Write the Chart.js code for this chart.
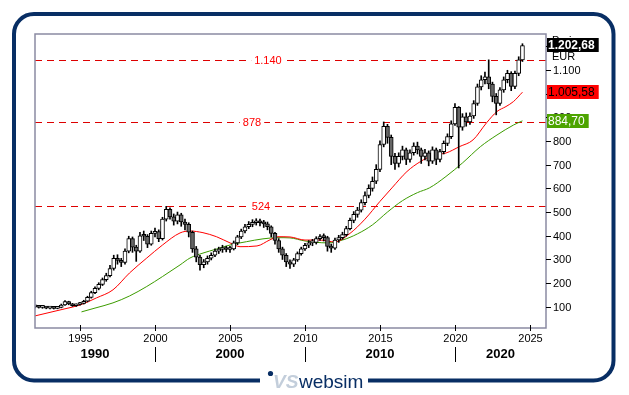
<!DOCTYPE html>
<html>
<head>
<meta charset="utf-8">
<script src="https://cdn.jsdelivr.net/npm/chart.js@4"></script>
<style>
  html, body { margin: 0; padding: 0; background: #fff; overflow: hidden; }
</style>
</head>
<body>
<canvas id="grafico" width="629" height="395"></canvas>
<script>
// ---------------------------------------------------------------- dados
// candles trimestrais, 1992 T1 .. 2024 T3 (EUR)
const INICIO = 1992.0;
const PASSO = 0.25;
const ABERTURA_INICIAL = 100;

const fechamentos = [
  101, 98, 99, 95,        // 1992
  97, 94, 98, 108,        // 1993
  122, 113, 105, 110,     // 1994
  115, 124, 140, 160,     // 1995
  178, 195, 215, 232,     // 1996
  262, 305, 296, 288,     // 1997
  335, 388, 352, 335,     // 1998
  400, 398, 365, 410,     // 1999
  418, 388, 470, 512,     // 2000
  480, 462, 488, 458,     // 2001
  448, 415, 345, 310,     // 2002
  278, 290, 305, 318,     // 2003
  335, 342, 348, 342,     // 2004
  345, 370, 395, 420,     // 2005
  438, 448, 455, 462,     // 2006
  455, 450, 438, 410,     // 2007
  380, 345, 318, 290,     // 2008
  280, 298, 325, 345,     // 2009
  360, 370, 372, 388,     // 2010
  395, 392, 355, 348,     // 2011
  382, 392, 405, 430,     // 2012
  465, 490, 508, 540,     // 2013
  570, 600, 630, 680,     // 2014
  785, 862, 815, 735,     // 2015
  705, 735, 762, 722,     // 2016
  750, 778, 762, 735,     // 2017
  750, 715, 762, 722,     // 2018
  755, 790, 818, 872,     // 2019
  942, 858, 902, 880,     // 2020
  905, 958, 1028, 1058,   // 2021
  1070, 1040, 988, 958,   // 2022
  1015, 1058, 1085, 1030, // 2023
  1085, 1142, 1202.68,    // 2024
];
const maximas = [
  104, 103, 102, 101,   100, 99, 101, 112,    127, 124, 115, 113,   119, 128, 145, 166,
  185, 202, 222, 242,   275, 318, 320, 305,   345, 398, 395, 360,   415, 420, 405, 420,
  432, 425, 478, 524,   518, 492, 500, 495,   470, 455, 420, 355,   318, 300, 315, 328,
  345, 352, 360, 356,   355, 378, 402, 428,   448, 460, 468, 472,   470, 465, 458, 442,
  415, 388, 352, 325,   298, 305, 332, 352,   368, 380, 385, 396,   405, 408, 398, 365,
  390, 402, 415, 440,   475, 502, 520, 552,   585, 615, 648, 700,   800, 880, 870, 825,
  748, 750, 778, 770,   762, 792, 795, 770,   765, 758, 775, 770,   765, 800, 830, 885,
  958, 945, 915, 918,   918, 970, 1040, 1075, 1090, 1142, 1048, 1000, 1025, 1070, 1098, 1092,
  1095, 1155, 1210,
];
const minimas = [
  96, 95, 94, 92,       92, 91, 92, 96,       106, 109, 102, 102,   107, 112, 121, 137,
  156, 172, 190, 208,   226, 255, 280, 270,   280, 328, 330, 292,   330, 380, 350, 360,
  395, 375, 382, 462,   470, 445, 450, 440,   425, 395, 330, 290,   255, 265, 280, 298,
  312, 325, 330, 332,   330, 340, 362, 388,   412, 430, 438, 445,   442, 435, 425, 395,
  365, 330, 300, 270,   262, 270, 292, 318,   338, 350, 358, 365,   380, 378, 335, 330,
  342, 372, 385, 398,   425, 455, 478, 500,   530, 560, 588, 620,   670, 775, 790, 700,
  680, 690, 720, 700,   710, 740, 745, 705,   720, 695, 705, 700,   712, 745, 780, 810,
  865, 686, 845, 862,   870, 895, 950, 1015,  1040, 1020, 965, 910,  950, 1005, 1045, 1012,
  1020, 1075, 1135,
];

// médias móveis
const mmVermelhaAnos = [1992.0, 1993.0, 1994.0, 1995.0, 1996.1, 1997.2, 1998.3, 1999.45, 2000.5, 2001.67,
  2002.33, 2003.2, 2004.1, 2005.0, 2005.67, 2006.8, 2007.67, 2008.2, 2009.0, 2010.0, 2011.0, 2012.0,
  2013.0, 2014.0, 2015.0, 2015.8, 2016.8, 2017.7, 2018.6, 2019.4, 2020.3, 2021.2, 2022.1, 2022.8,
  2023.4, 2023.9, 2024.5];
const mmVermelhaValores = [62, 77, 92, 108, 138, 172, 243, 306, 361, 412,
  420, 413, 396, 370, 354, 357, 383, 396, 395, 382, 382, 374,
  410, 470, 545, 602, 671, 713, 741, 749, 776, 804, 876, 924,
  945, 966, 1005.58];

const mmVerdeAnos = [1995.1, 1996.0, 1997.2, 1998.3, 1999.45, 2000.5, 2001.67, 2002.33, 2003.2, 2004.1,
  2005.0, 2006.1, 2007.2, 2008.2, 2009.0, 2010.0, 2011.5, 2012.5, 2013.5, 2014.5, 2015.5, 2016.5,
  2017.5, 2018.3, 2019.4, 2020.5, 2021.7, 2022.8, 2023.9, 2024.5];
const mmVerdeValores = [79, 95, 117, 146, 186, 228, 277, 306, 327, 344,
  361, 375, 387, 392, 391, 378, 370, 382, 408, 446, 500, 548,
  582, 602, 650, 707, 776, 825, 867, 884.70];

// linhas horizontais de resistência
const niveis = [1140, 878, 524];
const niveisRotulo = ["1.140", "878", "524"];

// eixos
const anosEixo = [1995, 2000, 2005, 2010, 2015, 2020, 2025];
const decadasLimites = [2000, 2010, 2020];
const decadasRotulos = ["1990", "2000", "2010", "2020"];
const ticksY = [100, 200, 300, 400, 500, 600, 700, 800, 900, 1000, 1100, 1200];

const ultimoPreco = 1202.68;

// ---------------------------------------------------------------- estilo
const CORES = {
  navy: "#082e64",
  moldura: "#8a8aa2",
  vermelho: "#ff0000",
  verde: "#3c9c00",
  badgeVerde: "#4da400",
  nivel: "#dd0000",
  baixa: "#666666",
};
const FONTE = '"Liberation Sans", Arial, sans-serif';

function fmt(v, casas = 0) {
  const [int, dec] = v.toFixed(casas).split(".");
  const milhar = int.replace(/\B(?=(\d{3})+(?!\d))/g, ".");
  return dec ? milhar + "," + dec : milhar;
}

const anosCandles = fechamentos.map((_, i) => INICIO + i * PASSO);
const aberturas = fechamentos.map((c, i) => (i === 0 ? ABERTURA_INICIAL : fechamentos[i - 1]));
const coresCorpo = fechamentos.map((c, i) => (c >= aberturas[i] ? "#ffffff" : CORES.baixa));

// ---------------------------------------------------------------- plugin de desenho
const desenho = {
  id: "desenho",
  beforeDraw(chart) {
    const { ctx, width, height } = chart;
    ctx.save();
    ctx.fillStyle = "#fff";
    ctx.fillRect(0, 0, width, height);
    ctx.restore();
  },
  beforeDatasetsDraw(chart) {
    const { ctx, chartArea: a, scales: { x, y } } = chart;
    const rotuloX = [2007.53, 2006.47, 2007.07]; // posição dos rótulos (anos)
    ctx.save();
    ctx.strokeStyle = CORES.nivel;
    ctx.lineWidth = 1;
    ctx.setLineDash([7, 5]);
    niveis.forEach((n) => {
      const py = Math.round(y.getPixelForValue(n)) + 0.5;
      ctx.beginPath();
      ctx.moveTo(a.left, py);
      ctx.lineTo(a.right, py);
      ctx.stroke();
    });
    ctx.setLineDash([]);
    ctx.font = `11px ${FONTE}`;
    ctx.textAlign = "center";
    ctx.textBaseline = "middle";
    niveis.forEach((n, i) => {
      const px = x.getPixelForValue(rotuloX[i]);
      const py = Math.round(y.getPixelForValue(n)) + 0.5;
      const w = ctx.measureText(niveisRotulo[i]).width + 6;
      ctx.fillStyle = "#fff";
      ctx.fillRect(px - w / 2, py - 6, w, 12);
      ctx.fillStyle = CORES.vermelho;
      ctx.fillText(niveisRotulo[i], px, py + 0.5);
    });
    ctx.restore();
  },
  afterDatasetsDraw(chart) {
    const { ctx, chartArea: a, scales: { x, y } } = chart;
    ctx.save();

    // moldura do gráfico
    ctx.strokeStyle = CORES.moldura;
    ctx.lineWidth = 1.5;
    ctx.strokeRect(a.left, a.top, a.right - a.left, a.bottom - a.top);

    // eixo Y (direita)
    ctx.fillStyle = "#000";
    ctx.strokeStyle = "#000";
    ctx.lineWidth = 1;
    ctx.font = `11px ${FONTE}`;
    ctx.textAlign = "left";
    ctx.textBaseline = "middle";
    ticksY.forEach((v) => {
      const py = Math.round(y.getPixelForValue(v)) + 0.5;
      ctx.beginPath();
      ctx.moveTo(a.right, py);
      ctx.lineTo(a.right + 5, py);
      ctx.stroke();
      ctx.fillText(fmt(v), a.right + 7, py + 0.5);
    });
    ctx.fillText("Preis", a.right + 6, a.top + 7);
    ctx.fillText("EUR", a.right + 6, a.top + 23);

    // eixo X
    ctx.textAlign = "center";
    anosEixo.forEach((ano) => {
      const px = Math.round(x.getPixelForValue(ano)) + 0.5;
      ctx.beginPath();
      ctx.moveTo(px, a.bottom - 3);
      ctx.lineTo(px, a.bottom + 3);
      ctx.stroke();
      ctx.fillText(String(ano), px, a.bottom + 11);
    });

    // décadas
    const limites = [a.left, ...decadasLimites.map((d) => x.getPixelForValue(d)), a.right];
    decadasLimites.forEach((d) => {
      const px = Math.round(x.getPixelForValue(d)) + 0.5;
      ctx.beginPath();
      ctx.moveTo(px, a.bottom + 19);
      ctx.lineTo(px, a.bottom + 34);
      ctx.stroke();
    });
    ctx.font = `bold 13px ${FONTE}`;
    decadasRotulos.forEach((r, i) => {
      ctx.fillText(r, (limites[i] + limites[i + 1]) / 2, a.bottom + 26);
    });

    // etiquetas de valor
    const etiquetas = [
      { v: ultimoPreco, fundo: "#000", texto: "#fff", bold: true },
      { v: mmVermelhaValores[mmVermelhaValores.length - 1], fundo: CORES.vermelho, texto: "#000", bold: false },
      { v: mmVerdeValores[mmVerdeValores.length - 1], fundo: CORES.badgeVerde, texto: "#fff", bold: false },
    ];
    ctx.textAlign = "left";
    etiquetas.forEach((e) => {
      ctx.font = `${e.bold ? "bold " : ""}12px ${FONTE}`;
      const t = fmt(e.v, 2);
      const w = ctx.measureText(t).width + 5;
      const py = y.getPixelForValue(e.v);
      ctx.fillStyle = e.fundo;
      ctx.fillRect(a.right + 1, Math.round(py - 7), w, 14);
      ctx.fillStyle = e.texto;
      ctx.fillText(t, a.right + 2, Math.round(py) + 0.5);
    });

    // moldura externa arredondada (aberta no logo)
    const L = 14, T = 14, R = 613.5, B = 380.5, r = 20;
    ctx.strokeStyle = CORES.navy;
    ctx.lineWidth = 4;
    ctx.beginPath();
    ctx.moveTo(260, B);
    ctx.lineTo(L + r, B);
    ctx.arcTo(L, B, L, B - r, r);
    ctx.lineTo(L, T + r);
    ctx.arcTo(L, T, L + r, T, r);
    ctx.lineTo(R - r, T);
    ctx.arcTo(R, T, R, T + r, r);
    ctx.lineTo(R, B - r);
    ctx.arcTo(R, B, R - r, B, r);
    ctx.lineTo(368, B);
    ctx.stroke();

    // logo
    ctx.fillStyle = CORES.navy;
    ctx.beginPath();
    ctx.arc(270.5, 373.5, 2.6, 0, Math.PI * 2);
    ctx.fill();
    ctx.textBaseline = "alphabetic";
    ctx.font = `italic bold 19px ${FONTE}`;
    ctx.fillStyle = "#c3cedb";
    ctx.fillText("VS", 273, 388);
    ctx.font = `19px ${FONTE}`;
    ctx.fillStyle = CORES.navy;
    ctx.fillText("websim", 299, 388);

    ctx.restore();
  },
};

// ---------------------------------------------------------------- gráfico
new Chart(document.getElementById("grafico"), {
  type: "bar",
  data: {
    datasets: [
      {
        label: "corpo",
        data: anosCandles.map((t, i) => ({ x: t, y: [aberturas[i], fechamentos[i]] })),
        backgroundColor: coresCorpo,
        borderColor: "#000",
        borderWidth: 1,
        borderSkipped: false,
        barThickness: 4,
        minBarLength: 2,
        grouped: false,
        order: 0,
      },
      {
        label: "pavio",
        data: anosCandles.map((t, i) => ({ x: t, y: [minimas[i], maximas[i]] })),
        backgroundColor: "#000",
        barThickness: 1,
        grouped: false,
        order: 1,
      },
      {
        type: "line",
        label: "MM vermelha",
        data: mmVermelhaAnos.map((t, i) => ({ x: t, y: mmVermelhaValores[i] })),
        borderColor: CORES.vermelho,
        borderWidth: 1,
        pointRadius: 0,
        cubicInterpolationMode: "monotone",
        order: 2,
      },
      {
        type: "line",
        label: "MM verde",
        data: mmVerdeAnos.map((t, i) => ({ x: t, y: mmVerdeValores[i] })),
        borderColor: CORES.verde,
        borderWidth: 1,
        pointRadius: 0,
        cubicInterpolationMode: "monotone",
        order: 3,
      },
    ],
  },
  options: {
    responsive: false,
    animation: false,
    events: [],
    layout: { padding: { left: 35, top: 34, right: 83, bottom: 67 } },
    plugins: { legend: { display: false }, tooltip: { enabled: false } },
    scales: {
      x: { type: "linear", min: 1992.0, max: 2026.07, offset: false, display: false },
      y: { type: "linear", min: 11, max: 1251, display: false },
    },
  },
  plugins: [desenho],
});
</script>
</body>
</html>
